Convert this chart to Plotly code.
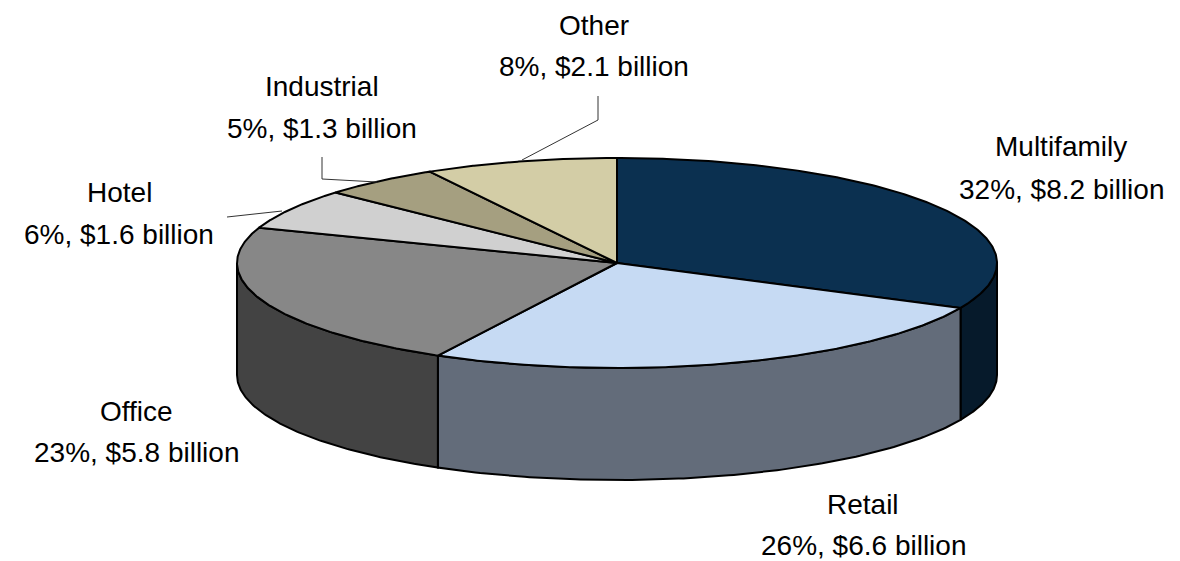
import numpy as np
import plotly.graph_objects as go

# Loan volume by property type
categories = ["Multifamily", "Retail", "Office", "Hotel", "Industrial", "Other"]
shares = [32, 26, 23, 6, 5, 8]            # percent of total (as labelled)
amounts = [8.2, 6.6, 5.8, 1.6, 1.3, 2.1]  # $ billion, sets slice angles

top_colors = ["#0B3050", "#C6DAF3", "#878787", "#D0D0D0", "#A59F80", "#D3CDA6"]
side_colors = ["#061A2B", "#636C7A", "#434343", "#8A8A8A", "#6E6A55", "#8F8A6E"]

# Geometry of the tilted disc (pixel space)
W, H = 1180, 561
CX, CY = 617, 263
RX, RY = 380, 105
DEPTH = 112


def rim(t_deg, drop=0.0):
    t = np.radians(t_deg)
    return CX + RX * np.cos(t), CY - RY * np.sin(t) + drop


fig = go.Figure()

total = float(sum(amounts))
bounds = []
acc = 0.0
for v in amounts:
    t0 = 90 - 360 * acc / total
    acc += v
    t1 = 90 - 360 * acc / total
    bounds.append((t0, t1))

# Side walls: only the front half of the rim (angles between -180 and 0)
for (t0, t1), col in zip(bounds, side_colors):
    lo, hi = max(min(t0, t1), -180), min(max(t0, t1), 0)
    if hi <= lo:
        continue
    ts = np.linspace(hi, lo, 120)
    xt, yt = rim(ts)
    xb, yb = rim(ts[::-1], DEPTH)
    xs = np.concatenate([xt, xb, xt[:1]])
    ys = np.concatenate([yt, yb, yt[:1]])
    fig.add_trace(go.Scatter(x=xs, y=ys, mode="lines", fill="toself",
                             fillcolor=col, line=dict(color="black", width=2),
                             hoverinfo="skip", showlegend=False))

# Top face slices
for (t0, t1), col, name in zip(bounds, top_colors, categories):
    ts = np.linspace(t0, t1, 200)
    xa, ya = rim(ts)
    xs = np.concatenate([[CX], xa, [CX]])
    ys = np.concatenate([[CY], ya, [CY]])
    fig.add_trace(go.Scatter(x=xs, y=ys, mode="lines", fill="toself",
                             fillcolor=col, line=dict(color="black", width=2),
                             name=name, hoverinfo="skip", showlegend=False))

# Label placement: (x centre, first line y, second line y)
label_pos = {
    "Multifamily": (1061, 146, 189),
    "Retail": (863, 504, 545),
    "Office": (136, 411, 452),
    "Hotel": (119, 192, 234),
    "Industrial": (322, 86, 128),
    "Other": (594, 25, 66),
}

font = dict(family="Liberation Sans, Arial, sans-serif", size=28, color="black")
for name, s, amt in zip(categories, shares, amounts):
    x, y1, y2 = label_pos[name]
    fig.add_annotation(x=x, y=y1, text=name, showarrow=False,
                       xanchor="center", yanchor="middle", font=font)
    fig.add_annotation(x=x, y=y2, text=f"{s}%, ${amt} billion", showarrow=False,
                       xanchor="center", yanchor="middle", font=font)

# Leader lines for the small slices
leaders = {
    "Other": ([598, 598, 522], [96, 120, 160]),
    "Industrial": ([322, 322, 377], [157, 179, 182]),
    "Hotel": ([227, 282], [217, 211]),
}
for name, (lx, ly) in leaders.items():
    fig.add_trace(go.Scatter(x=lx, y=ly, mode="lines",
                             line=dict(color="#333333", width=1),
                             hoverinfo="skip", showlegend=False))

fig.update_layout(
    width=W, height=H, autosize=False,
    margin=dict(l=0, r=0, t=0, b=0),
    paper_bgcolor="white", plot_bgcolor="white",
    xaxis=dict(range=[0, W], visible=False, fixedrange=True),
    yaxis=dict(range=[H, 0], visible=False, fixedrange=True),
)

fig.write_html("out.html")
